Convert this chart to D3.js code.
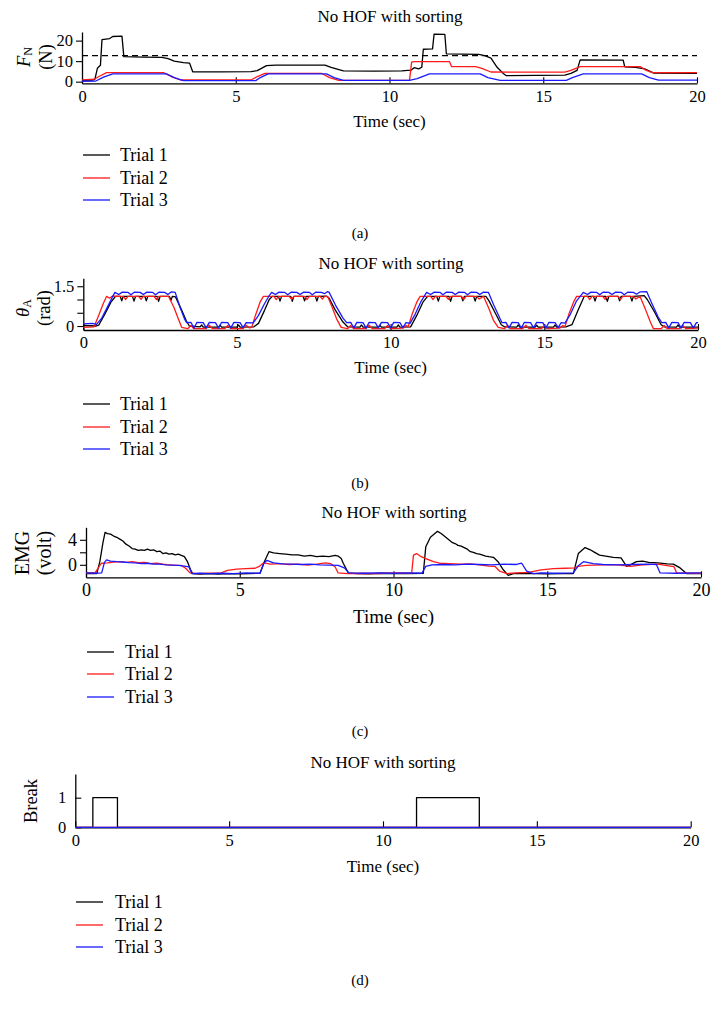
<!DOCTYPE html>
<html><head><meta charset="utf-8">
<script src="https://cdn.jsdelivr.net/npm/d3@7"></script>
<style>
body{margin:0;background:#fff}
svg{display:block}
text{font-family:"Liberation Serif","Times New Roman",serif;fill:#000}
</style>
</head><body><svg id="chart" width="720" height="1013"></svg>
<script>
// ---------------- DATA ----------------
const timeTicks = [0, 5, 10, 15, 20];
const trialNames = ["Trial 1", "Trial 2", "Trial 3"];
const trialColors = ["#000000", "#ff1a1a", "#1a1aff"];
const panelTitle = "No HOF with sorting";
const panelLetters = ["(a)", "(b)", "(c)", "(d)"];
const forceThreshold = 12.7;
const forceTicks = [0, 10, 20];
const angleTicks = [0, 0.5, 1, 1.5];
const angleTickLabels = ["0", "", "", "1.5"];
const emgTicks = [0, 2, 4];
const emgTickLabels = ["0", "", "4"];
const breakTicks = [0, 1];

// (a) Normal force F_N (N)
const forceT1 = [[0,0.6],[0.35,0.7],[0.42,1.2],[0.5,6.5],[0.6,8],[0.65,20.5],[0.9,21],[1.0,22],[1.3,22.2],[1.36,12.2],[2.0,12.0],[2.6,11.8],[2.8,11.2],[3.0,10],[3.3,9.3],[3.5,9.0],[3.6,4.8],[4.5,4.8],[5.5,4.9],[5.7,5.4],[6.0,7.8],[6.3,8.1],[7.9,8.1],[8.1,7.0],[8.5,5.3],[9.5,5.1],[10.4,5.3],[10.7,5.6],[10.8,6.8],[10.95,6.2],[11.05,7],[11.1,15.8],[11.4,16],[11.45,23.2],[11.8,23],[11.85,13.5],[12.9,13.3],[13.1,12.7],[13.3,11.5],[13.5,7],[13.7,4],[13.8,2.9],[15.7,3.2],[15.9,4],[16.1,5.5],[16.2,10.6],[17.6,10.5],[17.65,7.2],[18.0,7.0],[18.3,6.2],[18.6,4.2],[20,4.1]];
const forceT2 = [[0,0.9],[0.4,1.2],[0.55,2.5],[0.8,4.4],[2.65,4.4],[2.9,2.5],[3.2,0.8],[5.5,0.8],[5.7,2.5],[5.95,4.0],[7.8,4.0],[8.05,2],[8.35,0.6],[10.65,0.6],[10.72,9.5],[10.8,9.8],[11.95,9.8],[12.02,7.3],[12.8,7.3],[13.0,6.5],[13.3,4.7],[15.7,4.6],[15.9,5.5],[16.2,7.3],[18.15,7.3],[18.35,5.5],[18.55,4.4],[20,4.4]];
const forceT3 = [[0,0.2],[0.45,0.3],[0.7,2.2],[1.0,3.8],[2.75,3.8],[3.0,2],[3.3,0.5],[5.65,0.5],[5.8,2],[6.05,3.8],[7.95,3.8],[8.2,2],[8.5,0.6],[10.65,0.6],[10.9,1.5],[11.3,3.8],[12.95,3.8],[13.2,2],[13.6,0.6],[15.75,0.6],[15.95,2],[16.3,3.8],[18.2,3.8],[18.45,2],[18.75,0.7],[20,0.7]];

// (b) Joint angle theta_A (rad)
const angleT1 = [[0,0.02],[0.4,0.0],[0.5,0.03],[0.7,0.45],[0.9,0.9],[1.05,1.12],[1.2,1.12],[1.25,0.95],[1.3,1.12],[1.6,1.12],[1.65,0.94],[1.7,1.12],[2.0,1.12],[2.05,0.95],[2.1,1.12],[2.4,1.12],[2.45,0.93],[2.5,1.12],[2.8,1.12],[2.85,0.96],[2.9,1.12],[3.0,1.1],[3.2,0.6],[3.35,0.2],[3.45,0.0],[3.8,-0.03],[3.85,0.04],[3.9,-0.04],[4.4,-0.04],[4.45,0.03],[4.5,-0.04],[5.0,-0.04],[5.05,0.04],[5.1,-0.04],[5.55,-0.03],[5.7,0.1],[5.9,0.6],[6.05,1.0],[6.15,1.12],[6.35,1.12],[6.4,0.94],[6.45,1.12],[6.75,1.12],[6.8,0.93],[6.85,1.12],[7.15,1.12],[7.2,0.95],[7.25,1.12],[7.55,1.12],[7.6,0.94],[7.65,1.12],[7.9,1.13],[8.0,1.05],[8.2,0.6],[8.45,0.15],[8.6,-0.03],[9.0,-0.04],[9.05,0.04],[9.1,-0.04],[9.6,-0.04],[9.65,0.03],[9.7,-0.04],[10.2,-0.04],[10.25,0.04],[10.3,-0.04],[10.65,-0.03],[10.85,0.4],[11.05,0.9],[11.2,1.12],[11.5,1.12],[11.55,0.94],[11.6,1.12],[11.9,1.12],[11.95,0.93],[12.0,1.12],[12.3,1.12],[12.35,0.95],[12.4,1.12],[12.7,1.12],[12.75,0.94],[12.8,1.12],[13.1,1.12],[13.2,0.95],[13.4,0.5],[13.6,0.05],[13.7,-0.03],[14.1,-0.04],[14.15,0.04],[14.2,-0.04],[14.7,-0.04],[14.75,0.03],[14.8,-0.04],[15.3,-0.04],[15.35,0.04],[15.4,-0.04],[15.7,-0.03],[15.9,0.05],[16.1,0.6],[16.3,1.12],[16.6,1.12],[16.65,0.94],[16.7,1.12],[17.0,1.12],[17.05,0.93],[17.1,1.12],[17.4,1.12],[17.45,0.95],[17.5,1.12],[17.8,1.12],[17.85,0.94],[17.9,1.12],[18.25,1.15],[18.35,1.0],[18.6,0.5],[18.8,0.05],[18.9,-0.03],[19.3,-0.04],[19.35,0.04],[19.4,-0.04],[20,-0.04]];
const angleT2 = [[0,-0.05],[0.35,-0.03],[0.5,0.4],[0.65,0.85],[0.76,1.12],[0.85,1.05],[0.95,1.13],[1.3,1.12],[1.38,1.0],[1.45,1.12],[1.8,1.12],[1.88,1.01],[1.95,1.12],[2.3,1.12],[2.38,1.0],[2.45,1.12],[2.77,1.12],[2.95,0.7],[3.1,0.25],[3.2,-0.05],[3.4,-0.1],[3.5,0.02],[3.6,-0.1],[4.0,-0.1],[4.1,0.03],[4.2,-0.1],[4.6,-0.1],[4.7,0.02],[4.8,-0.1],[5.2,-0.1],[5.3,0.03],[5.4,-0.07],[5.48,-0.05],[5.6,0.4],[5.75,0.9],[5.86,1.12],[6.2,1.12],[6.28,1.0],[6.35,1.12],[6.7,1.12],[6.78,1.01],[6.85,1.12],[7.2,1.12],[7.28,1.0],[7.35,1.12],[7.7,1.12],[7.78,1.02],[7.85,1.12],[7.95,1.12],[8.1,0.7],[8.25,0.25],[8.39,-0.05],[8.6,-0.1],[8.7,0.02],[8.8,-0.1],[9.2,-0.1],[9.3,0.03],[9.4,-0.1],[9.8,-0.1],[9.9,0.02],[10.0,-0.1],[10.4,-0.08],[10.5,0.02],[10.57,-0.03],[10.7,0.45],[10.85,0.9],[10.96,1.12],[11.3,1.12],[11.38,1.0],[11.45,1.12],[11.8,1.12],[11.88,1.01],[11.95,1.12],[12.3,1.12],[12.38,1.0],[12.45,1.12],[12.8,1.12],[12.88,1.02],[13.02,1.12],[13.2,0.65],[13.35,0.2],[13.5,-0.05],[13.7,-0.1],[13.8,0.02],[13.9,-0.1],[14.3,-0.1],[14.4,0.03],[14.5,-0.1],[14.9,-0.1],[15.0,0.02],[15.1,-0.1],[15.5,-0.08],[15.6,0.02],[15.67,-0.03],[15.8,0.45],[15.95,0.9],[16.05,1.12],[16.4,1.12],[16.48,1.0],[16.55,1.12],[16.9,1.12],[16.98,1.01],[17.05,1.12],[17.4,1.12],[17.48,1.0],[17.55,1.12],[17.9,1.12],[17.98,1.02],[18.11,1.12],[18.3,0.6],[18.45,0.15],[18.55,-0.1],[18.8,-0.1],[18.9,0.02],[19.0,-0.1],[19.4,-0.1],[19.5,0.03],[19.6,-0.1],[20,-0.08]];
const angleT3 = [[0,0.08],[0.3,0.1],[0.43,0.06],[0.6,0.3],[0.8,0.75],[0.95,1.1],[1.03,1.27],[1.15,1.19],[1.27,1.28],[1.45,1.27],[1.55,1.18],[1.67,1.28],[1.85,1.27],[1.95,1.19],[2.07,1.28],[2.25,1.27],[2.35,1.18],[2.47,1.28],[2.65,1.27],[2.75,1.19],[2.87,1.29],[2.99,1.27],[3.15,0.7],[3.3,0.25],[3.36,0.13],[3.5,0.14],[3.6,-0.08],[3.7,0.14],[3.9,0.13],[4.0,-0.07],[4.1,0.14],[4.3,0.13],[4.4,-0.08],[4.5,0.14],[4.7,0.13],[4.8,-0.07],[4.9,0.14],[5.1,0.13],[5.2,-0.06],[5.3,0.13],[5.53,0.12],[5.7,0.4],[5.9,0.85],[6.05,1.15],[6.13,1.27],[6.25,1.19],[6.37,1.28],[6.55,1.27],[6.65,1.18],[6.77,1.28],[6.95,1.27],[7.05,1.19],[7.17,1.28],[7.35,1.27],[7.45,1.18],[7.57,1.28],[7.75,1.27],[7.85,1.22],[7.95,1.3],[8.0,1.27],[8.2,0.8],[8.45,0.3],[8.57,0.13],[8.7,0.14],[8.8,-0.07],[8.9,0.14],[9.1,0.13],[9.2,-0.08],[9.3,0.14],[9.5,0.13],[9.6,-0.07],[9.7,0.14],[9.9,0.13],[10.0,-0.07],[10.1,0.14],[10.3,0.13],[10.4,-0.06],[10.5,0.13],[10.63,0.1],[10.8,0.45],[11.0,0.95],[11.17,1.27],[11.3,1.19],[11.42,1.28],[11.6,1.27],[11.7,1.18],[11.82,1.28],[12.0,1.27],[12.1,1.19],[12.22,1.28],[12.4,1.27],[12.5,1.18],[12.62,1.28],[12.8,1.27],[12.9,1.19],[13.02,1.28],[13.18,1.27],[13.35,0.8],[13.55,0.3],[13.62,0.13],[13.75,0.14],[13.85,-0.07],[13.95,0.14],[14.15,0.13],[14.25,-0.08],[14.35,0.14],[14.55,0.13],[14.65,-0.07],[14.75,0.14],[14.95,0.13],[15.05,-0.08],[15.15,0.14],[15.35,0.13],[15.45,-0.06],[15.55,0.13],[15.67,0.11],[15.85,0.45],[16.05,0.95],[16.27,1.27],[16.4,1.19],[16.52,1.28],[16.7,1.27],[16.8,1.18],[16.92,1.28],[17.1,1.27],[17.2,1.19],[17.32,1.28],[17.5,1.27],[17.6,1.18],[17.72,1.28],[17.9,1.27],[18.0,1.2],[18.12,1.29],[18.33,1.3],[18.5,0.85],[18.7,0.35],[18.82,0.13],[18.95,0.14],[19.05,-0.07],[19.15,0.14],[19.35,0.13],[19.45,-0.08],[19.55,0.14],[19.75,0.13],[19.85,-0.07],[19.95,0.13],[20,0.13]];

// (c) EMG (volt)
const emgT1 = [[0,-1.4],[0.2,-1.35],[0.35,-1.4],[0.45,0.5],[0.55,3.5],[0.62,5.2],[0.7,5.0],[0.8,4.9],[0.9,4.6],[1.0,4.4],[1.1,4.1],[1.2,3.8],[1.3,3.3],[1.4,3.0],[1.5,2.6],[1.6,2.5],[1.7,2.3],[1.8,2.4],[1.9,2.3],[2.0,2.5],[2.1,2.3],[2.2,2.4],[2.3,2.1],[2.4,2.2],[2.5,1.8],[2.6,1.9],[2.7,1.7],[2.8,1.8],[2.9,1.6],[3.0,1.7],[3.1,1.5],[3.2,1.3],[3.3,0.5],[3.4,-0.8],[3.47,-1.4],[3.7,-1.5],[4.0,-1.4],[4.3,-1.5],[4.6,-1.4],[5.0,-1.45],[5.3,-1.4],[5.66,-1.35],[5.8,0.5],[5.95,2.1],[6.1,1.9],[6.3,1.8],[6.5,1.7],[6.7,1.6],[6.9,1.6],[7.1,1.4],[7.3,1.5],[7.5,1.3],[7.7,1.4],[7.9,1.3],[8.1,1.5],[8.2,1.4],[8.3,1.0],[8.37,0.2],[8.53,-1.3],[8.8,-1.4],[9.2,-1.45],[9.6,-1.35],[10.0,-1.4],[10.5,-1.4],[10.97,-1.35],[11.05,2.9],[11.2,4.4],[11.43,5.35],[11.55,5.0],[11.7,4.4],[11.8,4.0],[11.9,3.6],[12.0,3.4],[12.1,3.1],[12.2,3.0],[12.3,2.75],[12.4,2.5],[12.5,2.1],[12.6,2.0],[12.7,1.8],[12.8,1.7],[12.9,1.55],[13.0,1.4],[13.1,1.3],[13.25,1.2],[13.4,0.5],[13.57,-0.8],[13.73,-1.7],[13.9,-1.4],[14.2,-1.35],[14.6,-1.4],[15.0,-1.45],[15.5,-1.4],[15.85,-1.4],[16.01,1.8],[16.23,2.75],[16.4,2.4],[16.5,2.1],[16.7,1.55],[16.9,1.4],[17.15,1.2],[17.4,1.1],[17.58,-0.26],[17.7,0.0],[17.9,0.5],[18.1,0.6],[18.3,0.4],[18.6,0.3],[18.9,0.15],[19.1,0.1],[19.32,-0.5],[19.53,-1.4],[20,-1.4]];
const emgT2 = [[0,-1.3],[0.3,-1.25],[0.4,-0.5],[0.5,0.25],[0.7,0.3],[0.9,0.45],[1.1,0.5],[1.3,0.4],[1.5,0.5],[1.7,0.35],[1.9,0.4],[2.1,0.2],[2.3,0.25],[2.5,0.1],[2.7,0.0],[2.9,-0.1],[3.1,-0.1],[3.25,-0.6],[3.38,-1.3],[3.6,-1.4],[4.0,-1.35],[4.4,-1.3],[4.6,-0.9],[4.9,-0.7],[5.2,-0.6],[5.5,-0.55],[5.65,-0.2],[5.77,0.3],[6.0,0.1],[6.3,0.2],[6.6,0.05],[6.9,0.1],[7.2,-0.05],[7.5,0.1],[7.8,0.3],[7.95,0.2],[8.1,-0.3],[8.2,-1.3],[8.5,-1.4],[9.0,-1.35],[9.5,-1.4],[10.0,-1.3],[10.59,-1.35],[10.65,1.55],[10.75,1.8],[10.9,1.3],[11.05,1.0],[11.3,0.5],[11.5,0.25],[11.8,0.2],[12.2,0.1],[12.5,0.15],[12.8,0.0],[13.1,-0.2],[13.3,-0.26],[13.45,-1.0],[13.69,-1.4],[14.0,-1.3],[14.4,-1.2],[14.8,-0.8],[15.2,-0.6],[15.6,-0.55],[15.9,-0.5],[16.0,-0.26],[16.27,-0.1],[16.8,0.0],[17.3,0.0],[17.7,-0.26],[18.1,0.0],[18.6,0.1],[19.0,-0.2],[19.12,-0.3],[19.21,-1.3],[20,-1.35]];
const emgT3 = [[0,-1.3],[0.3,-1.35],[0.51,-1.3],[0.6,0.4],[0.67,0.8],[0.8,0.6],[1.0,0.5],[1.2,0.45],[1.4,0.35],[1.6,0.3],[1.8,0.2],[2.0,0.25],[2.2,0.1],[2.4,0.1],[2.6,0.0],[2.8,-0.05],[3.0,-0.1],[3.2,-0.2],[3.35,-0.35],[3.44,-1.4],[3.7,-1.35],[4.0,-1.4],[4.4,-1.35],[4.8,-1.4],[5.2,-1.3],[5.66,-1.35],[5.78,0.2],[5.88,0.7],[6.1,0.3],[6.4,0.15],[6.7,0.1],[7.0,0.05],[7.3,0.1],[7.6,0.0],[7.9,-0.05],[8.2,-0.1],[8.4,-0.5],[8.55,-1.3],[9.0,-1.35],[9.5,-1.3],[10.0,-1.35],[10.5,-1.3],[10.92,-1.35],[11.05,-0.26],[11.25,0.0],[11.6,0.05],[12.0,0.0],[12.4,0.1],[12.8,0.05],[13.2,0.0],[13.6,0.1],[14.0,0.05],[14.17,0.25],[14.33,-1.0],[14.55,-1.4],[14.8,-1.3],[15.2,-1.35],[15.85,-1.3],[16.0,-0.2],[16.18,0.5],[16.5,0.2],[16.8,0.05],[17.3,0.0],[17.8,0.05],[18.3,0.1],[18.55,0.05],[18.67,-1.3],[19.2,-1.35],[20,-1.3]];

// (d) Break flag
const breakT1 = [[0,0],[0.57,0],[0.57,1],[1.37,1],[1.37,0],[11.09,0],[11.09,1],[13.13,1],[13.13,0],[20,0]];
const breakT2 = [[0,0],[20,0]];
const breakT3 = [[0,0],[20,0]];

// ---------------- LAYOUT ----------------
const svg = d3.select("#chart");
svg.append("rect").attr("width",720).attr("height",1013).attr("fill","#fff");

const panels = [
  {series:[forceT1,forceT2,forceT3], x0:82, x1:697, yDom:[-0.8,24.2], yRng:[83.3,32], yTicks:forceTicks, yLabels:null,
   titleY:16, titleX:390, timeY:121, tickFs:16.5, labFs:17, yFs:18.5, yTickDir:"out",
   ylab:{kind:"force", x1:24, x2:46, y:57}, leg:{lx:83, tx:120, y:[155,178,200]}, letterY:233, dashed:forceThreshold},
  {series:[angleT1,angleT2,angleT3], x0:83.3, x1:698, yDom:[-0.15,1.8], yRng:[330,278.3], yTicks:angleTicks, yLabels:angleTickLabels,
   titleY:263, titleX:391, timeY:367, tickFs:16.5, labFs:17, yFs:18.5, yTickDir:"out",
   ylab:{kind:"angle", x1:23, x2:44, y:308}, leg:{lx:83, tx:120, y:[404,427,449]}, letterY:483},
  {series:[emgT1,emgT2,emgT3], x0:86, x1:701, yDom:[-2,6], yRng:[577.3,527.3], yTicks:emgTicks, yLabels:emgTickLabels,
   titleY:512, titleX:394, timeY:616, tickFs:18, labFs:19, yFs:20, yTickDir:"out",
   ylab:{kind:"emg", x1:22, x2:44, y:553}, leg:{lx:87, tx:125, y:[652,674,697]}, letterY:731},
  {series:[breakT1,breakT2,breakT3], x0:75.3, x1:690.7, yDom:[0,1.8], yRng:[827.3,774], yTicks:breakTicks, yLabels:null,
   titleY:762, titleX:383, timeY:866, tickFs:16.5, labFs:17, yFs:18.5, yTickDir:"in",
   ylab:{kind:"break", x1:31, y:801}, leg:{lx:76, tx:115, y:[902,925,947]}, letterY:980}
];

panels.forEach((p, pi) => {
  const g = svg.append("g");
  const x = d3.scaleLinear().domain([0,20]).range([p.x0, p.x1]);
  const y = d3.scaleLinear().domain(p.yDom).range(p.yRng);

  // title
  g.append("text").attr("x", p.titleX).attr("y", p.titleY).attr("text-anchor","middle")
    .attr("dominant-baseline","central").attr("font-size", 17).text(panelTitle);

  // x axis (ticks pointing inward / up)
  const xa = g.append("g").attr("transform",`translate(0,${p.yRng[0]})`)
    .call(d3.axisBottom(x).tickValues(timeTicks).tickSizeInner(-6).tickSizeOuter(0).tickPadding(13).tickFormat(d3.format("d")));
  xa.select(".domain").attr("stroke","#000").attr("stroke-width",1.3);
  xa.selectAll(".tick line").attr("stroke","#000").attr("stroke-width",1.1);
  xa.selectAll(".tick text").attr("font-size", p.tickFs).attr("font-family",null).attr("dy","0.32em");

  // y axis
  const yAxis = d3.axisLeft(y).tickValues(p.yTicks).tickSizeOuter(0)
    .tickSizeInner(p.yTickDir === "out" ? 6 : -6).tickPadding(p.yTickDir === "out" ? 3 : 9)
    .tickFormat((d,i) => p.yLabels ? p.yLabels[i] : d3.format("d")(d));
  const ya = g.append("g").attr("transform",`translate(${p.x0},0)`).call(yAxis);
  ya.select(".domain").attr("stroke","#000").attr("stroke-width",1.3);
  ya.selectAll(".tick line").attr("stroke","#000").attr("stroke-width",1.1);
  ya.selectAll(".tick text").attr("font-size", p.tickFs).attr("font-family",null);

  // Time label
  g.append("text").attr("x", (p.x0+p.x1)/2).attr("y", p.timeY).attr("text-anchor","middle")
    .attr("dominant-baseline","central").attr("font-size", p.labFs).text("Time (sec)");

  // dashed threshold
  if (p.dashed !== undefined) {
    g.append("line").attr("x1", x(0)).attr("x2", x(20)).attr("y1", y(p.dashed)).attr("y2", y(p.dashed))
      .attr("stroke","#000").attr("stroke-width",1.1).attr("stroke-dasharray","6,4");
  }

  // series
  const line = d3.line().x(d => x(d[0])).y(d => y(d[1]));
  p.series.forEach((s, si) => {
    g.append("path").datum(s).attr("d", line).attr("fill","none")
      .attr("stroke", trialColors[si]).attr("stroke-width",1.3).attr("stroke-linejoin","round");
  });

  // y-axis label
  const yl = p.ylab;
  const fsY = p.yFs;
  if (yl.kind === "force") {
    const t = g.append("text").attr("transform",`translate(${yl.x1},${yl.y}) rotate(-90)`).attr("text-anchor","middle")
      .attr("dominant-baseline","central").attr("font-size", fsY);
    t.append("tspan").attr("font-style","italic").text("F");
    t.append("tspan").attr("font-size", 12).attr("dy", 4).text("N");
    g.append("text").attr("transform",`translate(${yl.x2},${yl.y}) rotate(-90)`).attr("text-anchor","middle")
      .attr("dominant-baseline","central").attr("font-size", fsY).text("(N)");
  } else if (yl.kind === "angle") {
    const t = g.append("text").attr("transform",`translate(${yl.x1},${yl.y}) rotate(-90)`).attr("text-anchor","middle")
      .attr("dominant-baseline","central").attr("font-size", fsY);
    t.append("tspan").attr("font-style","italic").text("θ");
    t.append("tspan").attr("font-size", 12).attr("dy", 4).text("A");
    g.append("text").attr("transform",`translate(${yl.x2},${yl.y}) rotate(-90)`).attr("text-anchor","middle")
      .attr("dominant-baseline","central").attr("font-size", fsY).text("(rad)");
  } else if (yl.kind === "emg") {
    g.append("text").attr("transform",`translate(${yl.x1},${yl.y}) rotate(-90)`).attr("text-anchor","middle")
      .attr("dominant-baseline","central").attr("font-size", fsY).text("EMG");
    g.append("text").attr("transform",`translate(${yl.x2},${yl.y}) rotate(-90)`).attr("text-anchor","middle")
      .attr("dominant-baseline","central").attr("font-size", fsY).text("(volt)");
  } else {
    g.append("text").attr("transform",`translate(${yl.x1},${yl.y}) rotate(-90)`).attr("text-anchor","middle")
      .attr("dominant-baseline","central").attr("font-size", fsY).text("Break");
  }

  // legend
  trialNames.forEach((n, i) => {
    g.append("line").attr("x1", p.leg.lx).attr("x2", p.leg.lx+27).attr("y1", p.leg.y[i]).attr("y2", p.leg.y[i])
      .attr("stroke", trialColors[i]).attr("stroke-width",1.3);
    g.append("text").attr("x", p.leg.tx).attr("y", p.leg.y[i]).attr("dominant-baseline","central")
      .attr("font-size", 18).text(n);
  });

  // panel letter
  g.append("text").attr("x", 360).attr("y", p.letterY).attr("text-anchor","middle")
    .attr("dominant-baseline","central").attr("font-size", 15).text(panelLetters[pi]);
});
</script>
</body></html>
